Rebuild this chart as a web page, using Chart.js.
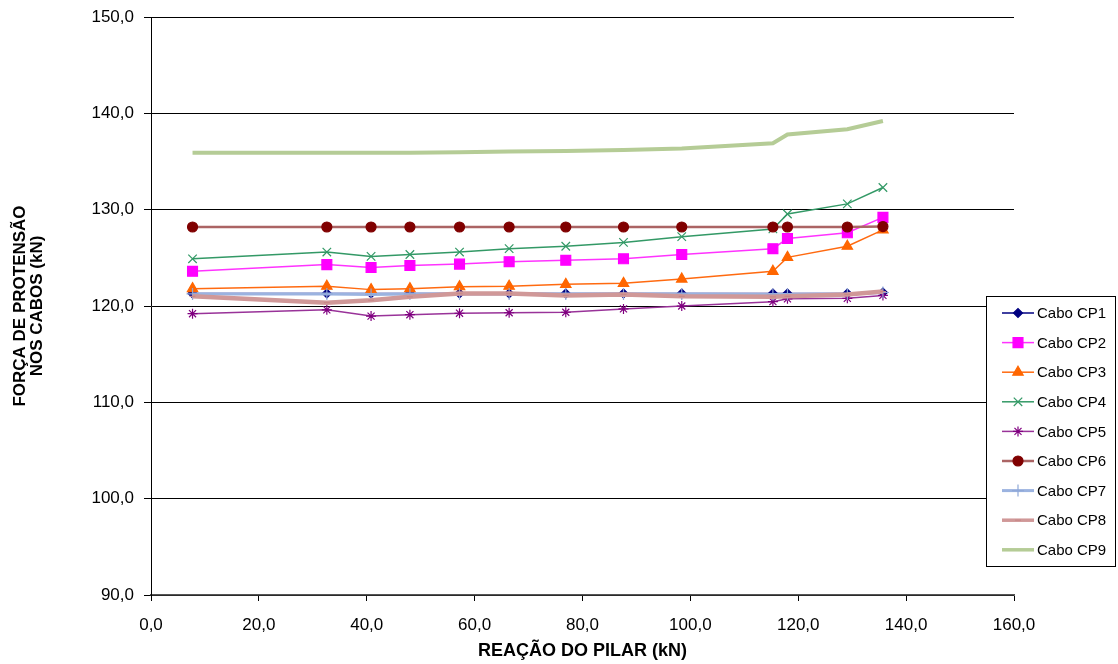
<!DOCTYPE html>
<html>
<head>
<meta charset="utf-8">
<script src="https://cdn.jsdelivr.net/npm/chart.js"></script>
<style>
  html, body { margin: 0; padding: 0; background: #fff; }
  #wrap { width: 1118px; height: 664px; position: relative; }
</style>
</head>
<body>
<div id="wrap"><canvas id="c" width="1118" height="664"></canvas></div>
<script>
// ---- data ----
const reacaoPilar = [7.7, 32.6, 40.8, 48.0, 57.2, 66.4, 76.9, 87.6, 98.4, 115.3, 118.0, 129.1, 135.7];
const seriesNames = ['Cabo CP1','Cabo CP2','Cabo CP3','Cabo CP4','Cabo CP5','Cabo CP6','Cabo CP7','Cabo CP8','Cabo CP9'];
const cp1 = [121.3, 121.3, 121.3, 121.3, 121.3, 121.3, 121.3, 121.3, 121.3, 121.3, 121.3, 121.3, 121.4];
const cp2 = [123.6, 124.3, 124.0, 124.2, 124.35, 124.6, 124.75, 124.9, 125.35, 125.95, 127.0, 127.6, 129.2];
const cp3 = [121.8, 122.05, 121.7, 121.8, 122.0, 122.05, 122.25, 122.35, 122.8, 123.6, 125.05, 126.2, 127.9];
const cp4 = [124.9, 125.6, 125.15, 125.35, 125.6, 125.95, 126.2, 126.6, 127.2, 128.0, 129.55, 130.6, 132.3];
const cp5 = [119.2, 119.6, 118.95, 119.1, 119.25, 119.3, 119.35, 119.7, 120.0, 120.45, 120.75, 120.8, 121.1];
const cp6 = [128.2, 128.2, 128.2, 128.2, 128.2, 128.2, 128.2, 128.2, 128.2, 128.2, 128.2, 128.2, 128.25];
const cp7 = [121.25, 121.25, 121.2, 121.25, 121.25, 121.25, 121.25, 121.25, 121.25, 121.2, 121.2, 121.25, 121.4];
const cp8 = [121.0, 120.35, 120.6, 120.95, 121.3, 121.3, 121.1, 121.2, 121.0, 120.95, 121.0, 121.2, 121.5];
const cp9 = [135.9, 135.9, 135.9, 135.9, 135.95, 136.05, 136.1, 136.2, 136.35, 136.9, 137.8, 138.35, 139.2];
const yTicks = [90, 100, 110, 120, 130, 140, 150];
const xTicks = [0, 20, 40, 60, 80, 100, 120, 140, 160];

const allSeries = [cp1, cp2, cp3, cp4, cp5, cp6, cp7, cp8, cp9];
const styles = [
  {line:'#000080', lw:1.5, pt:'rectRot',  r:4.5, pc:'#000080'},
  {line:'#ff33ff', lw:1.5, pt:'rect',     r:7,   pc:'#ff00ff'},
  {line:'#ff6a10', lw:1.5, pt:'triangle', r:6,   pc:'#ff6600'},
  {line:'#339966', lw:1.5, pt:'crossRot', r:6,   pc:'#339966'},
  {line:'#993399', lw:1.5, pt:'star',     r:5,   pc:'#800080'},
  {line:'#ab6464', lw:2.5, pt:'circle',   r:5,   pc:'#800000'},
  {line:'#9bb3e0', lw:3,   pt:'cross',    r:6,   pc:'#8fa8d8'},
  {line:'#d09898', lw:4.5, pt:'line',     r:3,   pc:'#c88888'},
  {line:'#b5cc96', lw:4,   pt:'circle',   r:0,   pc:'#b5cc96'}
];

const fmt = v => Number(v).toFixed(1).replace('.', ',');
const FONT = "'Liberation Sans', Arial, Helvetica, sans-serif";

const datasets = allSeries.map((vals, i) => ({
  label: seriesNames[i],
  data: vals.map((v, k) => ({x: reacaoPilar[k], y: v})),
  borderColor: styles[i].line,
  backgroundColor: styles[i].pc,
  borderWidth: styles[i].lw,
  pointStyle: styles[i].pt,
  pointRadius: styles[i].r,
  pointBackgroundColor: styles[i].pc,
  pointBorderColor: styles[i].pc,
  pointBorderWidth: 1.2,
  showLine: true,
  tension: 0,
  fill: false,
  order: 9 - i
}));

const legendBox = {
  id: 'legendBox',
  afterDraw(chart) {
    const ctx = chart.ctx;
    const bx = 986.5, by = 296.5, bw = 129, bh = 270;
    ctx.save();
    ctx.fillStyle = '#fff';
    ctx.fillRect(bx, by, bw, bh);
    ctx.strokeStyle = '#000';
    ctx.lineWidth = 1;
    ctx.strokeRect(bx, by, bw, bh);
    ctx.font = '15px ' + FONT;
    ctx.textBaseline = 'middle';
    ctx.textAlign = 'left';
    chart.data.datasets.forEach((ds, i) => {
      const y = 313 + i * 29.6;
      ctx.strokeStyle = ds.borderColor;
      ctx.lineWidth = Math.min(ds.borderWidth, 3.5);
      ctx.beginPath();
      ctx.moveTo(1002, y);
      ctx.lineTo(1034, y);
      ctx.stroke();
      if (ds.pointRadius > 0 && Chart.helpers && Chart.helpers.drawPoint) {
        ctx.fillStyle = ds.pointBackgroundColor;
        ctx.strokeStyle = ds.pointBorderColor;
        ctx.lineWidth = 1.2;
        Chart.helpers.drawPoint(ctx, {pointStyle: ds.pointStyle, radius: ds.pointRadius, rotation: 0, borderWidth: 1.2}, 1018, y);
      }
      ctx.fillStyle = '#000';
      ctx.fillText(ds.label, 1037, y + 1);
    });
    ctx.restore();
  }
};

new Chart(document.getElementById('c'), {
  type: 'scatter',
  data: { datasets },
  options: {
    responsive: false,
    animation: false,
    events: [],
    layout: { padding: { left: 0, top: 17, right: 104, bottom: 0 } },
    plugins: { legend: { display: false }, tooltip: { enabled: false } },
    scales: {
      x: {
        type: 'linear',
        min: 0, max: 160,
        afterBuildTicks: s => { s.ticks = xTicks.map(v => ({value: v})); },
        afterFit: s => { s.height = 69; s.paddingLeft = 0; s.paddingRight = 0; },
        ticks: { callback: fmt, color: '#000', font: { family: FONT, size: 17 }, padding: 14, maxRotation: 0, autoSkip: false },
        grid: { drawOnChartArea: false, drawTicks: true, tickLength: 6, color: '#000', lineWidth: 1 },
        border: { display: true, color: '#555', width: 1.5 },
        title: { display: true, text: 'REAÇÃO DO PILAR (kN)', color: '#000', font: { family: FONT, size: 18, weight: 'bold', lineHeight: 1.2 }, padding: { top: 0, bottom: 2 } }
      },
      y: {
        type: 'linear',
        min: 90, max: 150,
        afterBuildTicks: s => { s.ticks = yTicks.map(v => ({value: v})); },
        afterFit: s => { s.width = 151; s.paddingTop = 0; s.paddingBottom = 0; },
        ticks: { callback: fmt, color: '#000', font: { family: FONT, size: 17 }, padding: 10 },
        grid: { drawOnChartArea: true, drawTicks: true, tickLength: 7, color: '#000', lineWidth: 1 },
        border: { display: true, color: '#000', width: 1 },
        title: { display: true, text: ['FORÇA DE PROTENSÃO', 'NOS CABOS (kN)'], color: '#000', font: { family: FONT, size: 17, weight: 'bold', lineHeight: 1.0 }, padding: { top: 12, bottom: 0 } }
      }
    }
  },
  plugins: [legendBox]
});
</script>
</body>
</html>
